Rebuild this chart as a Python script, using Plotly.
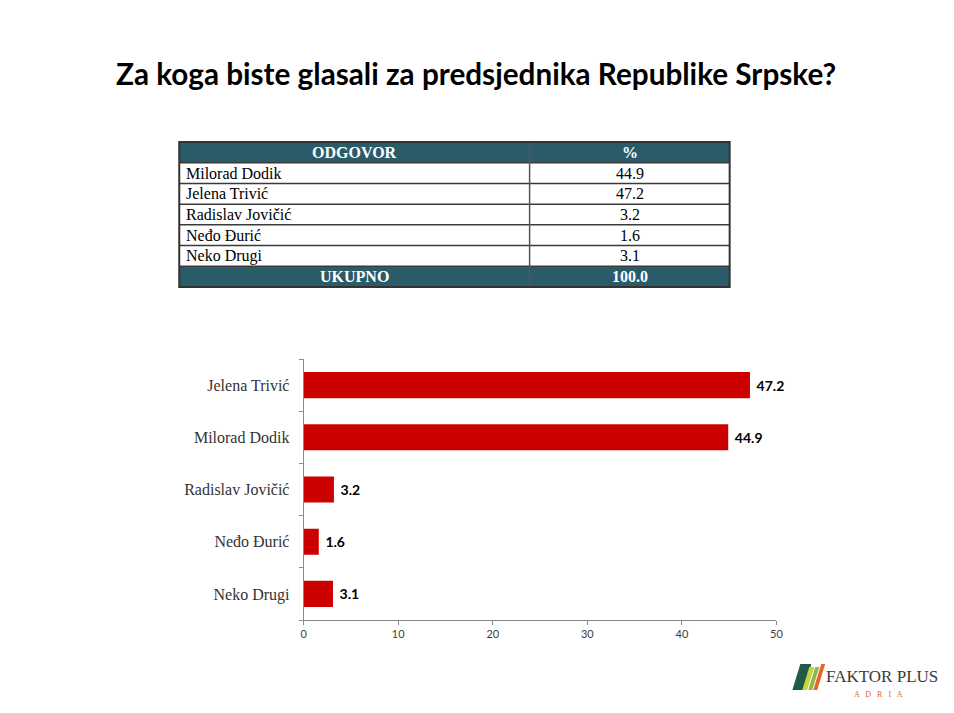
import plotly.graph_objects as go

# table data (order as in the table)
table_header = ["ODGOVOR", "%"]
table_names = ["Milorad Dodik", "Jelena Trivić", "Radislav Jovičić", "Neđo Đurić", "Neko Drugi"]
table_pct = [44.9, 47.2, 3.2, 1.6, 3.1]
total_label = "UKUPNO"
total_pct = 100.0

# bar chart data (sorted as in the chart, top to bottom)
bar_names = ["Jelena Trivić", "Milorad Dodik", "Radislav Jovičić", "Neđo Đurić", "Neko Drugi"]
bar_values = [47.2, 44.9, 3.2, 1.6, 3.1]

# page is 954x713, body has an 8px margin around the plot div
W, H = 938, 697
OFF = 8
XS = 0.994  # small horizontal squeeze seen in the snapshot
TEAL = "#2a5b69"
RED = "#cc0000"
SERIF = "Liberation Serif"


def px_x(x):
    return (x / XS - OFF) / W


def px_y(y):
    return 1 - (y - OFF) / H


fig = go.Figure()

# ---- table drawn with shapes + text
T_LEFT, T_MID, T_RIGHT = 177, 529, 730
T_TOP, T_BOT = 142, 287
rows = [(table_header[0], table_header[1], True)]
rows += [(nm, f"{v:.1f}", False) for nm, v in zip(table_names, table_pct)]
rows += [(total_label, f"{total_pct:.1f}", True)]
row_h = (T_BOT - T_TOP) / len(rows)

for i, (c1, c2, dark) in enumerate(rows):
    y0 = T_TOP + i * row_h
    y1 = y0 + row_h
    yc = (y0 + y1) / 2
    if dark:
        fig.add_shape(type="rect", xref="paper", yref="paper",
                      x0=px_x(T_LEFT), x1=px_x(T_RIGHT), y0=px_y(y1), y1=px_y(y0),
                      fillcolor=TEAL, line=dict(width=0), layer="below")
        fig.add_annotation(text=f"<b>{c1}</b>", x=px_x((T_LEFT + T_MID) / 2), y=px_y(yc),
                           xref="paper", yref="paper", showarrow=False,
                           xanchor="center", yanchor="middle",
                           font=dict(family=SERIF, size=16, color="white"))
        fig.add_annotation(text=f"<b>{c2}</b>", x=px_x((T_MID + T_RIGHT) / 2), y=px_y(yc),
                           xref="paper", yref="paper", showarrow=False,
                           xanchor="center", yanchor="middle",
                           font=dict(family=SERIF, size=16, color="white"))
    else:
        fig.add_annotation(text=c1, x=px_x(T_LEFT + 5), y=px_y(yc),
                           xref="paper", yref="paper", showarrow=False,
                           xanchor="left", yanchor="middle",
                           font=dict(family=SERIF, size=16, color="black"))
        fig.add_annotation(text=c2, x=px_x((T_MID + T_RIGHT) / 2), y=px_y(yc),
                           xref="paper", yref="paper", showarrow=False,
                           xanchor="center", yanchor="middle",
                           font=dict(family=SERIF, size=16, color="black"))
    if i > 0:
        fig.add_shape(type="line", xref="paper", yref="paper",
                      x0=px_x(T_LEFT), x1=px_x(T_RIGHT), y0=px_y(y0), y1=px_y(y0),
                      line=dict(color="#3a3a3a", width=1.5))

fig.add_shape(type="line", xref="paper", yref="paper",
              x0=px_x(T_MID), x1=px_x(T_MID), y0=px_y(T_BOT), y1=px_y(T_TOP),
              line=dict(color="#555555", width=1.5))
fig.add_shape(type="rect", xref="paper", yref="paper",
              x0=px_x(T_LEFT), x1=px_x(T_RIGHT), y0=px_y(T_BOT), y1=px_y(T_TOP),
              line=dict(color="#333333", width=2))

# ---- bar chart
fig.add_trace(go.Bar(
    x=bar_values,
    y=bar_names,
    orientation="h",
    marker=dict(color=RED, line=dict(width=0)),
    width=0.5,
    text=[f"\u00a0<b>{v:.1f}</b>" for v in bar_values],
    textposition="outside",
    textfont=dict(family="Lato", size=14, color="black"),
    cliponaxis=False,
    showlegend=False,
))

fig.update_xaxes(
    domain=[px_x(302), px_x(777)],
    range=[0, 50],
    dtick=10,
    showgrid=False,
    zeroline=False,
    showline=True,
    linecolor="#8a8a8a",
    linewidth=1,
    ticks="outside",
    ticklen=4,
    tickcolor="#8a8a8a",
    tickfont=dict(family="Lato", size=11, color="#404040"),
    anchor="y",
)
fig.update_yaxes(
    domain=[px_y(620), px_y(359)],
    categoryorder="array",
    categoryarray=bar_names[::-1],
    showgrid=False,
    zeroline=False,
    showline=True,
    linecolor="#8a8a8a",
    linewidth=1,
    ticks="outside",
    tickson="boundaries",
    ticklen=4,
    tickcolor="#8a8a8a",
    tickfont=dict(family=SERIF, size=16, color="#333333"),
    ticklabelstandoff=10,
    anchor="x",
)

# ---- title
fig.add_annotation(
    text="<b>Za koga biste glasali za predsjednika Republike Srpske?</b>",
    x=px_x(475), y=px_y(73), xref="paper", yref="paper",
    showarrow=False, xanchor="center", yanchor="middle",
    font=dict(family="Lato", size=29.7, color="black"),
)

# ---- logo
logo_stripes = [
    ("#1f5a4a", [(793, 690), (801, 664), (812, 664), (804, 690)]),
    ("#c9d63a", [(803, 690), (810, 667), (815, 667), (808, 690)]),
    ("#8cb84a", [(809, 690), (816, 667), (820, 667), (813, 690)]),
    ("#e8652a", [(814, 690), (822, 664), (826, 664), (818, 690)]),
]
for color, pts in logo_stripes:
    path = "M " + " L ".join(f"{px_x(x)},{px_y(y)}" for x, y in pts) + " Z"
    fig.add_shape(type="path", path=path, xref="paper", yref="paper",
                  fillcolor=color, line=dict(width=0))
fig.add_annotation(
    text="FAKTOR PLUS", x=px_x(825), y=px_y(676), xref="paper", yref="paper",
    showarrow=False, xanchor="left", yanchor="middle",
    font=dict(family=SERIF, size=17, color="#3a3a3a"),
)
fig.add_annotation(
    text="A &nbsp; D &nbsp; R &nbsp; I &nbsp; A", x=px_x(880), y=px_y(694), xref="paper", yref="paper",
    showarrow=False, xanchor="center", yanchor="middle",
    font=dict(family=SERIF, size=8, color="#e8652a"),
)

fig.update_layout(
    width=W, height=H,
    margin=dict(l=0, r=0, t=0, b=0),
    paper_bgcolor="white",
    plot_bgcolor="white",
    bargap=0.5,
)

fig.write_html("out.html")
